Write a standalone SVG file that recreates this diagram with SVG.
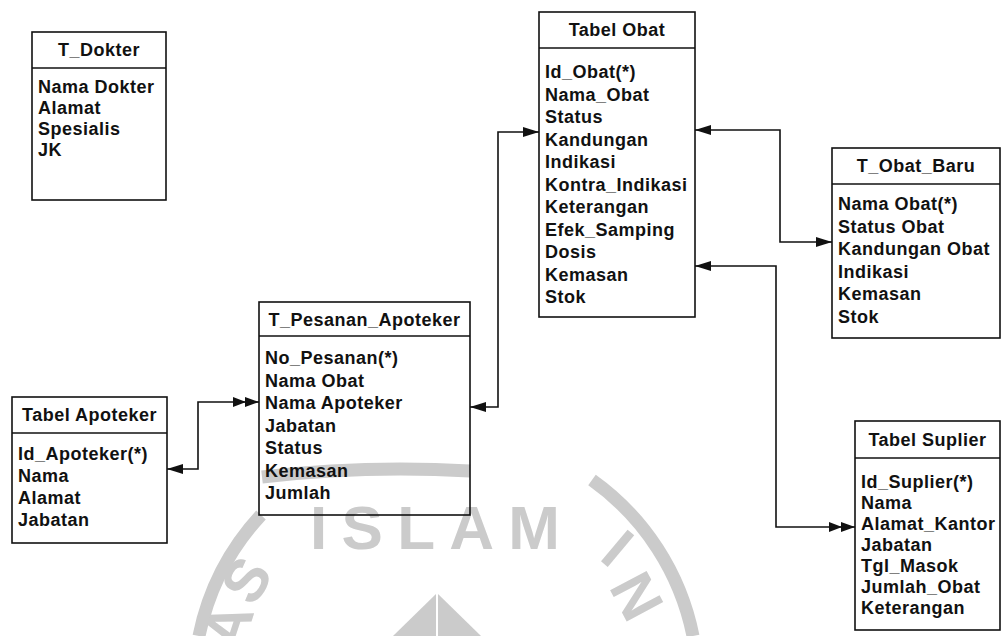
<svg xmlns="http://www.w3.org/2000/svg" width="1003" height="636" viewBox="0 0 1003 636">
  <style>
    .box { fill: none; stroke: #111; stroke-width: 1.6; }
    .sep { stroke: #111; stroke-width: 1.4; }
    .t { font-family: "Liberation Sans", Arial, Helvetica, sans-serif; font-size: 18px; font-weight: bold; letter-spacing: 0.5px; fill: #111; }
    .h { text-anchor: middle; }
    .link { fill: none; stroke: #111; stroke-width: 1.6; }
    .wm { fill: #cbcbcb; font-family: "Liberation Sans", Arial, sans-serif; font-weight: bold; }
    .ring { fill: none; stroke: #cbcbcb; stroke-width: 13; }
  </style>
  <defs>
    <marker id="arr" viewBox="0 0 16 10" refX="16" refY="5" markerWidth="16" markerHeight="10" markerUnits="userSpaceOnUse" orient="auto-start-reverse">
      <path d="M0,0 L16,5 L0,10 z" fill="#111"/>
    </marker>
    <marker id="arr2" viewBox="0 0 26 10" refX="26" refY="5" markerWidth="26" markerHeight="10" markerUnits="userSpaceOnUse" orient="auto">
      <path d="M0,0 L13,5 L0,10 z M12,0 L26,5 L12,10 z" fill="#111"/>
    </marker>
  </defs>

  <rect width="1003" height="636" fill="#ffffff"/>

  <!-- faint emblem printed behind the tables -->
  <g id="emblem">
    <path class="ring" d="M199,636 A252,252 0 0 1 261,515"/>
    <path class="ring" d="M592,480 A252,252 0 0 1 693,636"/>
    <path class="ring" d="M262,477 Q365,465 470,471" stroke-width="10"/>
    <text class="wm" x="435" y="549" font-size="62" text-anchor="middle" textLength="250" lengthAdjust="spacing">ISLAM</text>
    <text class="wm" font-size="60" text-anchor="middle" transform="translate(246,580) rotate(-58)" y="21">S</text>
    <text class="wm" font-size="60" text-anchor="middle" transform="translate(228,626) rotate(-72)" y="21">A</text>
    <text class="wm" font-size="60" text-anchor="middle" transform="translate(618,548) rotate(40)" y="21">I</text>
    <text class="wm" font-size="60" text-anchor="middle" transform="translate(637,596) rotate(62)" y="21">N</text>
    <polygon points="437,593 393,636 481,636" fill="#cbcbcb"/>
    <line x1="437" y1="593" x2="437" y2="636" stroke="#ffffff" stroke-width="2"/>
  </g>

  <!-- relationships -->
  <g id="connectors">
    <path class="link" d="M167,469 H198 V402 H259" marker-start="url(#arr)" marker-end="url(#arr2)"/>
    <path class="link" d="M470,407 H498 V132 H539" marker-start="url(#arr)" marker-end="url(#arr)"/>
    <path class="link" d="M695,130 H780 V242 H832" marker-start="url(#arr)" marker-end="url(#arr)"/>
    <path class="link" d="M695,266 H776 V527 H855" marker-start="url(#arr)" marker-end="url(#arr2)"/>
  </g>

  <g id="t_dokter">
    <rect class="box" x="32" y="32" width="134" height="168"/>
    <line class="sep" x1="32" y1="68" x2="166" y2="68"/>
    <text class="t h" x="99" y="56">T_Dokter</text>
    <text class="t" x="38" y="93">Nama Dokter</text>
    <text class="t" x="38" y="114">Alamat</text>
    <text class="t" x="38" y="135">Spesialis</text>
    <text class="t" x="38" y="156">JK</text>
  </g>

  <g id="tabel_obat">
    <rect class="box" x="539" y="12" width="156" height="305"/>
    <line class="sep" x1="539" y1="48" x2="695" y2="48"/>
    <text class="t h" x="617" y="36">Tabel Obat</text>
    <text class="t" x="545" y="78">Id_Obat(*)</text>
    <text class="t" x="545" y="100.5">Nama_Obat</text>
    <text class="t" x="545" y="123">Status</text>
    <text class="t" x="545" y="145.5">Kandungan</text>
    <text class="t" x="545" y="168">Indikasi</text>
    <text class="t" x="545" y="190.5">Kontra_Indikasi</text>
    <text class="t" x="545" y="213">Keterangan</text>
    <text class="t" x="545" y="235.5">Efek_Samping</text>
    <text class="t" x="545" y="258">Dosis</text>
    <text class="t" x="545" y="280.5">Kemasan</text>
    <text class="t" x="545" y="303">Stok</text>
  </g>

  <g id="t_obat_baru">
    <rect class="box" x="832" y="148" width="168" height="190"/>
    <line class="sep" x1="832" y1="184" x2="1000" y2="184"/>
    <text class="t h" x="916" y="172">T_Obat_Baru</text>
    <text class="t" x="838" y="210">Nama Obat(*)</text>
    <text class="t" x="838" y="232.5">Status Obat</text>
    <text class="t" x="838" y="255">Kandungan Obat</text>
    <text class="t" x="838" y="277.5">Indikasi</text>
    <text class="t" x="838" y="300">Kemasan</text>
    <text class="t" x="838" y="322.5">Stok</text>
  </g>

  <g id="t_pesanan_apoteker">
    <rect class="box" x="259" y="302" width="211" height="213"/>
    <line class="sep" x1="259" y1="336" x2="470" y2="336"/>
    <text class="t h" x="364.5" y="326">T_Pesanan_Apoteker</text>
    <text class="t" x="265" y="364">No_Pesanan(*)</text>
    <text class="t" x="265" y="386.5">Nama Obat</text>
    <text class="t" x="265" y="409">Nama Apoteker</text>
    <text class="t" x="265" y="431.5">Jabatan</text>
    <text class="t" x="265" y="454" fill="#444">Status</text>
    <text class="t" x="265" y="476.5">Kemasan</text>
    <text class="t" x="265" y="499">Jumlah</text>
  </g>

  <g id="tabel_apoteker">
    <rect class="box" x="12" y="397" width="155" height="146"/>
    <line class="sep" x1="12" y1="433" x2="167" y2="433"/>
    <text class="t h" x="89.5" y="421">Tabel Apoteker</text>
    <text class="t" x="18" y="460">Id_Apoteker(*)</text>
    <text class="t" x="18" y="482">Nama</text>
    <text class="t" x="18" y="504">Alamat</text>
    <text class="t" x="18" y="526">Jabatan</text>
  </g>

  <g id="tabel_suplier">
    <rect class="box" x="855" y="421" width="145" height="209"/>
    <line class="sep" x1="855" y1="458" x2="1000" y2="458"/>
    <text class="t h" x="927.5" y="446">Tabel Suplier</text>
    <text class="t" x="861" y="488">Id_Suplier(*)</text>
    <text class="t" x="861" y="509">Nama</text>
    <text class="t" x="861" y="530">Alamat_Kantor</text>
    <text class="t" x="861" y="551">Jabatan</text>
    <text class="t" x="861" y="572">Tgl_Masok</text>
    <text class="t" x="861" y="593">Jumlah_Obat</text>
    <text class="t" x="861" y="614">Keterangan</text>
  </g>
</svg>
